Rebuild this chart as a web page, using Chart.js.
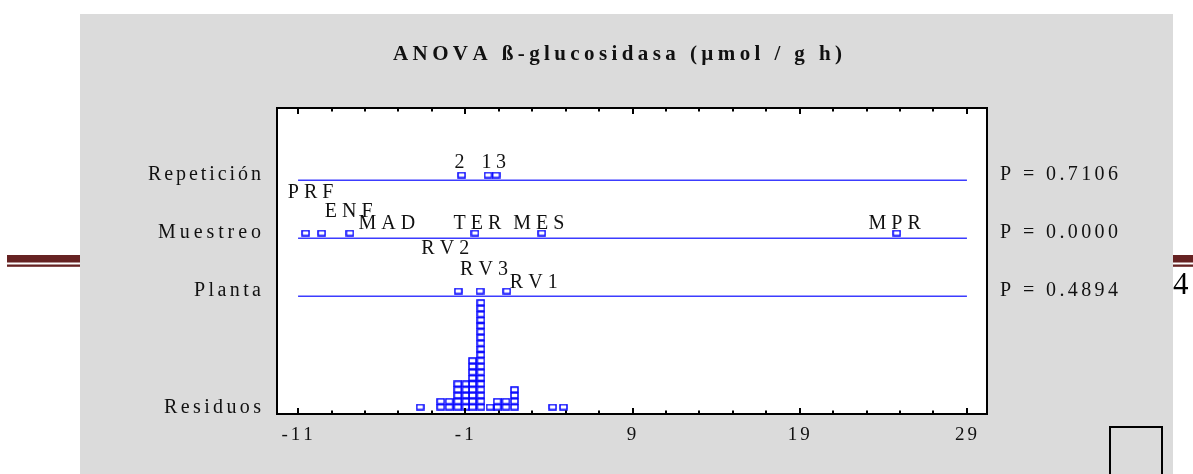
<!DOCTYPE html>
<html>
<head>
<meta charset="utf-8">
<script src="https://cdn.jsdelivr.net/npm/chart.js@4/dist/chart.umd.min.js"></script>
<style>
  body { margin: 0; background: #ffffff; }
  canvas { display: block; }
</style>
</head>
<body>
<canvas id="chart" width="1193" height="474"></canvas>
<script>
// values
const chartTitle = 'ANOVA ß-glucosidasa (µmol / g h)';
const factorNames = ['Repetición', 'Muestreo', 'Planta'];
const residualName = 'Residuos';
const pValues = ['0.7106', '0.0000', '0.4894'];

const repLevels = ['2', '1', '3'];
const repEffects = [-1.22, 0.36, 0.84];

const muestreoLevels = ['PRF', 'ENF', 'MAD', 'TER', 'MES', 'MPR'];
const muestreoEffects = [-10.55, -9.59, -7.90, -0.42, 3.57, 24.80];

const plantaLevels = ['RV2', 'RV3', 'RV1'];
const plantaEffects = [-1.42, -0.12, 1.48];

const residualValues = [-3.70, -2.47, -1.96, -1.45, -0.96, -0.57, -0.07, 0.48, 0.91, 1.43, 1.94, 4.22, 4.87];
const residualCounts = [1, 2, 2, 5, 5, 9, 19, 1, 2, 2, 4, 1, 1];

const xTickLabels = [-11, -1, 9, 19, 29];
const xMinorStep = 2;

// layout: row levels on the y scale (1 unit = one stacked dot)
const rowLines = [39.1, 29.1, 19.1];
const dotLift = 0.9;

// label nudges in px [dx, dy] from each dot, so labels don't collide
const repLabelNudge = [[-2, -7], [-1.5, -7], [5, -7]];
const muestreoLabelNudge = [[5, -35], [27, -16], [37, -4], [2.5, -4], [-3, -4], [-2, -4]];
const plantaLabelNudge = [[-13, -37], [4, -16], [27, -3]];

const BLUE = '#0000ff';
const LINE_BLUE = '#3c3cff';
const GRAY = '#dbdbdb';
const MAROON = '#662222';
const SERIF = '"Liberation Serif", "Times New Roman", serif';

// hollow rectangular dot
function makeDot () {
  const c = document.createElement('canvas');
  c.width = 9;
  c.height = 7;
  const g = c.getContext('2d');
  g.strokeStyle = BLUE;
  g.lineWidth = 1.5;
  g.strokeRect(1, 1, 7, 5);
  return c;
}
const dot = makeDot();

// draws text char by char with extra spacing
function spaced (ctx, str, x, y, ls, align) {
  let w = 0;
  const widths = [];
  for (const ch of str) {
    const cw = ctx.measureText(ch).width;
    widths.push(cw);
    w += cw;
  }
  w += ls * (widths.length - 1);
  let left = x;
  if (align === 'center') left = x - w / 2;
  if (align === 'right') left = x - w;
  ctx.textAlign = 'left';
  let i = 0;
  for (const ch of str) {
    ctx.fillText(ch, left, y);
    left += widths[i++] + ls;
  }
}

// spreads text so it fills [left, right]
function fitted (ctx, str, left, right, y) {
  let natural = 0;
  const chars = Array.from(str);
  chars.forEach(ch => { natural += ctx.measureText(ch).width; });
  const ls = (right - left - natural) / (chars.length - 1);
  spaced(ctx, str, left, y, ls, 'left');
}

function lineData (level) {
  return [{ x: xTickLabels[0], y: level }, { x: xTickLabels[xTickLabels.length - 1], y: level }];
}

function dotData (effects, row) {
  return effects.map(v => ({ x: v, y: rowLines[row] + dotLift }));
}

function residualData () {
  const pts = [];
  residualValues.forEach((v, i) => {
    for (let k = 0; k < residualCounts[i]; k++) {
      pts.push({ x: v, y: k });
    }
  });
  return pts;
}

const lineSet = level => ({
  type: 'line',
  data: lineData(level),
  borderColor: LINE_BLUE,
  borderWidth: 1.5,
  pointRadius: 0,
  fill: false
});

const dotSet = data => ({
  type: 'scatter',
  data,
  pointStyle: dot,
  pointRadius: 4
});

const backdrop = {
  id: 'backdrop',
  beforeDraw (chart) {
    const ctx = chart.ctx;
    const a = chart.chartArea;
    ctx.save();
    ctx.fillStyle = '#ffffff';
    ctx.fillRect(0, 0, chart.width, chart.height);

    // page rule on both sides
    ctx.fillStyle = MAROON;
    ctx.fillRect(7, 255, 73, 7.5);
    ctx.fillRect(7, 264.5, 73, 2.3);
    ctx.fillRect(1173, 255, 20, 7.5);
    ctx.fillRect(1173, 264.5, 20, 2.3);

    ctx.fillStyle = GRAY;
    ctx.fillRect(80, 14, 1093, chart.height - 14);

    ctx.fillStyle = '#000000';
    ctx.font = '31px ' + SERIF;
    ctx.textAlign = 'left';
    ctx.fillText('4', 1173, 294);

    ctx.strokeStyle = '#000000';
    ctx.lineWidth = 2;
    ctx.strokeRect(1110, 427, 52, 60);

    ctx.fillStyle = '#ffffff';
    ctx.fillRect(a.left, a.top, a.right - a.left, a.bottom - a.top);
    ctx.restore();
  },
  afterDraw (chart) {
    const ctx = chart.ctx;
    const a = chart.chartArea;
    const xs = chart.scales.x;
    const ys = chart.scales.y;
    ctx.save();

    // frame
    ctx.strokeStyle = '#000000';
    ctx.lineWidth = 2;
    ctx.strokeRect(a.left, a.top, a.right - a.left, a.bottom - a.top);

    // inward ticks top and bottom
    for (let v = xTickLabels[0]; v <= xTickLabels[xTickLabels.length - 1] + 0.001; v += xMinorStep) {
      const px = Math.round(xs.getPixelForValue(v));
      const major = xTickLabels.includes(v);
      const len = major ? 6 : 3.5;
      ctx.beginPath();
      ctx.moveTo(px, a.top);
      ctx.lineTo(px, a.top + len);
      ctx.moveTo(px, a.bottom);
      ctx.lineTo(px, a.bottom - len);
      ctx.stroke();
    }

    ctx.fillStyle = '#111111';
    ctx.textBaseline = 'alphabetic';

    // title
    ctx.font = 'bold 21px ' + SERIF;
    fitted(ctx, chartTitle, 393, 842, 60);

    // tick labels
    ctx.font = '19px ' + SERIF;
    xTickLabels.forEach(v => {
      spaced(ctx, String(v), xs.getPixelForValue(v) - 1, 439.5, 3, 'center');
    });

    // row names and p values
    ctx.font = '20px ' + SERIF;
    const leftEdges = [148, 158, 194];
    factorNames.forEach((name, i) => {
      const y = ys.getPixelForValue(rowLines[i]);
      fitted(ctx, name, leftEdges[i], 261, y);
      fitted(ctx, 'P = ' + pValues[i], 1000, 1118, y);
    });
    fitted(ctx, residualName, 164, 261, ys.getPixelForValue(0) + 5.5);

    // level labels over the dots
    const groups = [
      [repLevels, repEffects, repLabelNudge, 0],
      [muestreoLevels, muestreoEffects, muestreoLabelNudge, 1],
      [plantaLevels, plantaEffects, plantaLabelNudge, 2]
    ];
    groups.forEach(([names, effects, nudge, row]) => {
      names.forEach((name, i) => {
        const px = xs.getPixelForValue(effects[i]) + nudge[i][0];
        const py = ys.getPixelForValue(rowLines[row] + dotLift) + nudge[i][1];
        spaced(ctx, name, px, py, 5, 'center');
      });
    });

    ctx.restore();
  }
};

new Chart(document.getElementById('chart'), {
  data: {
    datasets: [
      lineSet(rowLines[0]),
      lineSet(rowLines[1]),
      lineSet(rowLines[2]),
      dotSet(dotData(repEffects, 0)),
      dotSet(dotData(muestreoEffects, 1)),
      dotSet(dotData(plantaEffects, 2)),
      dotSet(residualData())
    ]
  },
  options: {
    responsive: false,
    animation: false,
    devicePixelRatio: 1,
    layout: {
      padding: { left: 277, right: 206, top: 108, bottom: 60 }
    },
    scales: {
      x: { type: 'linear', min: -12.26, max: 30.2, display: false },
      y: { type: 'linear', min: -1.2, max: 51.55, display: false }
    },
    plugins: {
      legend: { display: false },
      title: { display: false },
      tooltip: { enabled: false }
    }
  },
  plugins: [backdrop]
});
</script>
</body>
</html>
